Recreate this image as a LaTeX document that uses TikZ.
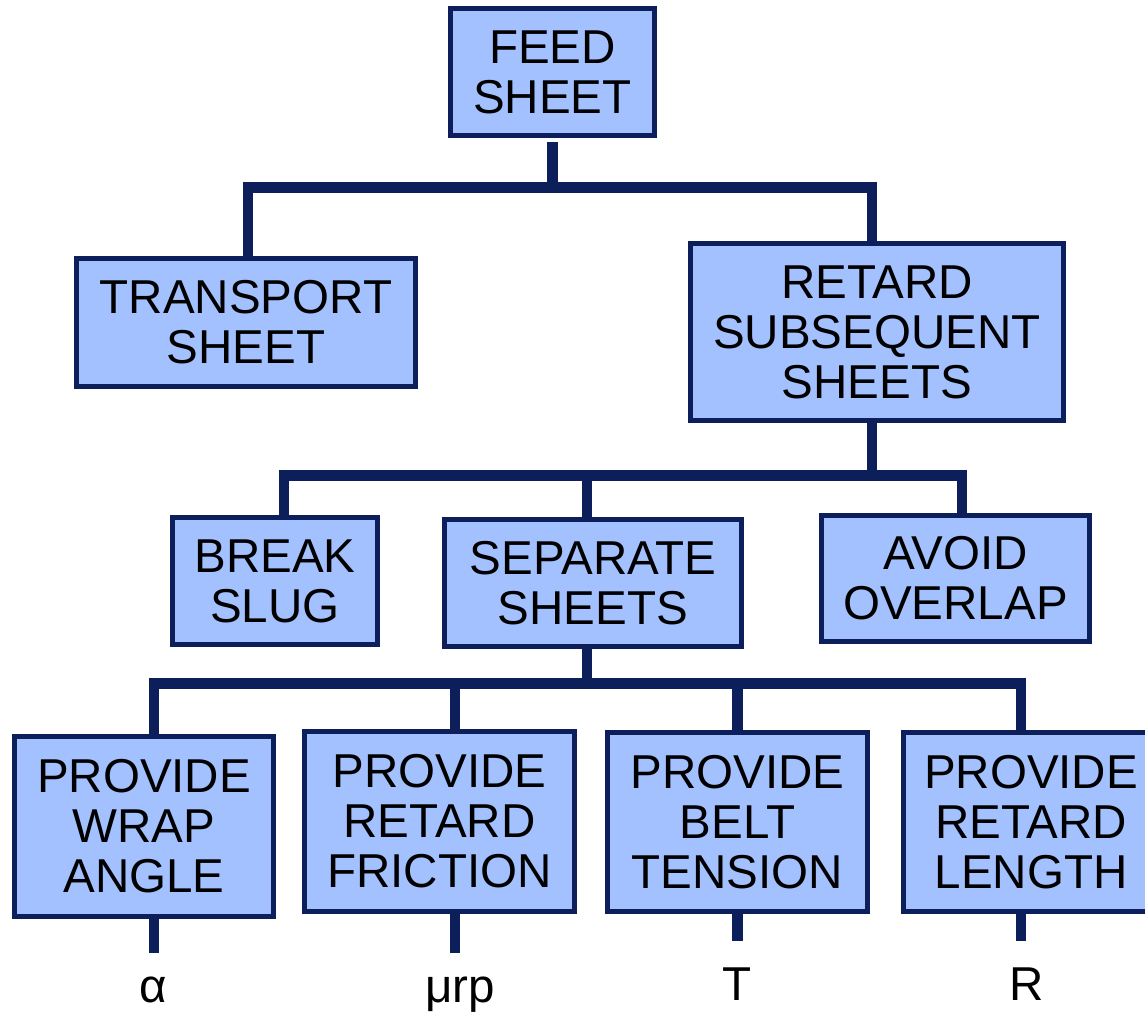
\documentclass[tikz,border=0pt]{standalone}
\usepackage{fontspec}
\setmainfont{Liberation Sans}
\definecolor{boxblue}{RGB}{163,193,255}
\definecolor{linenavy}{RGB}{12,31,90}
\begin{document}
\begin{tikzpicture}[
    x=0.025cm, y=-0.025cm,
    box/.style={draw=linenavy, line width=0.125cm, fill=boxblue, inner sep=0pt, align=center, font=\fontsize{33.8}{35.6}\selectfont},
    link/.style={draw=linenavy, line width=0.2625cm, line join=miter},
    sym/.style={anchor=base, font=\fontsize{33.8}{35.6}\selectfont}
]
    \useasboundingbox (0,0) rectangle (1145,1014);
    \clip (0,0) rectangle (1145,1014);

    \node[box, minimum width=5.1cm, minimum height=3.175cm] (feed) at (552.5,72) {FEED\\SHEET};
    \node[box, minimum width=8.475cm, minimum height=3.2cm] (transport) at (246,322.5) {TRANSPORT\\SHEET};
    \node[box, minimum width=9.325cm, minimum height=4.425cm] (retard) at (877,332) {RETARD\\SUBSEQUENT\\SHEETS};

    \node[box, minimum width=5.125cm, minimum height=3.175cm] (brk) at (275,581) {BREAK\\SLUG};
    \node[box, minimum width=7.425cm, minimum height=3.175cm] (sep) at (593,583) {SEPARATE\\SHEETS};
    \node[box, minimum width=6.7cm, minimum height=3.15cm] (avoid) at (955.5,578.5) {AVOID\\OVERLAP};

    \node[box, minimum width=6.475cm, minimum height=4.5cm] (wrap) at (144,826.5) {PROVIDE\\WRAP\\ANGLE};
    \node[box, minimum width=6.75cm, minimum height=4.5cm] (friction) at (439.5,821.5) {PROVIDE\\RETARD\\FRICTION};
    \node[box, minimum width=6.5cm, minimum height=4.475cm] (tension) at (737.5,822) {PROVIDE\\BELT\\TENSION};
    \node[box, minimum width=6.375cm, minimum height=4.475cm] (length) at (1031,822) {PROVIDE\\RETARD\\LENGTH};

    \node[sym] (alpha) at (153,1002) {α};
    \node[sym] (murp) at (460,1002) {μrp};
    \node[sym] (tsym) at (737,1000) {T};
    \node[sym] (rsym) at (1027,1000) {R};

    \draw[link, shorten <=0.1cm] (feed.south) -- ++(0,49.5);
    \draw[link] ([xshift=0.05cm]transport.north) -- ++(0,-68.5) -| ([xshift=-0.125cm]retard.north);

    \draw[link] ([xshift=-0.125cm]retard.south) -- ++(0,52.5);
    \draw[link] ([xshift=0.225cm]brk.north) -- ++(0,-39.5) -| ([xshift=0.1625cm]avoid.north);
    \draw[link] ([xshift=-0.15cm]sep.north) -- ++(0,-41.5);

    \draw[link] ([xshift=-0.15cm]sep.south) -- ++(0,34.5);
    \draw[link] ([xshift=0.25cm]wrap.north) -- ++(0,-50.5) -| ([xshift=-0.25cm]length.north);
    \draw[link] ([xshift=0.3875cm]friction.north) -- ++(0,-45.5);
    \draw[link] (tension.north) -- ++(0,-46.5);

    \draw[link] ([xshift=0.25cm]wrap.south) -- ++(0,34);
    \draw[link] ([xshift=0.3875cm]friction.south) -- ++(0,39);
    \draw[link] (tension.south) -- ++(0,27);
    \draw[link] ([xshift=-0.25cm]length.south) -- ++(0,27);
\end{tikzpicture}
\end{document}
